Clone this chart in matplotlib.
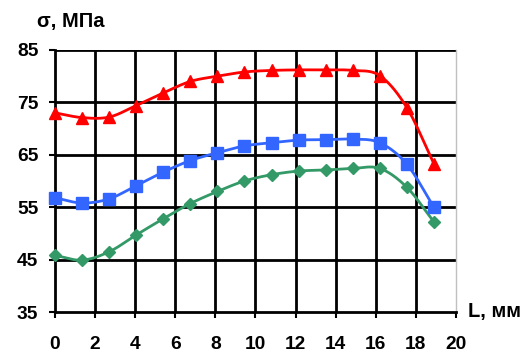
import numpy as np
import matplotlib
matplotlib.use("Agg")
import matplotlib.pyplot as plt

L = [0, 1.35, 2.7, 4.05, 5.4, 6.75, 8.1, 9.45, 10.8, 12.15, 13.5, 14.85, 16.2, 17.55, 18.9]
red = [73.0, 72.1, 72.2, 74.4, 76.8, 79.0, 80.0, 80.8, 81.1, 81.2, 81.2, 81.1, 80.1, 74.0, 63.3]
blue = [56.8, 55.8, 56.6, 59.1, 61.7, 63.9, 65.4, 66.7, 67.3, 67.8, 67.9, 68.0, 67.3, 63.2, 55.0]
green = [45.8, 44.9, 46.5, 49.7, 52.8, 55.7, 58.0, 60.0, 61.2, 61.9, 62.1, 62.4, 62.4, 58.8, 52.2]
xticks = list(range(0, 21, 2))
yticks = [35, 45, 55, 65, 75, 85]

plt.rcParams['font.family'] = ['Liberation Sans', 'DejaVu Sans']

def smooth(x, y, n=20):
    x = np.asarray(x, float); y = np.asarray(y, float)
    px = np.concatenate([[2*x[0]-x[1]], x, [2*x[-1]-x[-2]]])
    py = np.concatenate([[2*y[0]-y[1]], y, [2*y[-1]-y[-2]]])
    xs, ys = [], []
    t = np.linspace(0, 1, n, endpoint=False)
    for i in range(1, len(px)-2):
        p0, p1, p2, p3 = [np.array([px[j], py[j]]) for j in (i-1, i, i+1, i+2)]
        for tt in t:
            pt = 0.5*((2*p1) + (-p0+p2)*tt + (2*p0-5*p1+4*p2-p3)*tt**2 + (-p0+3*p1-3*p2+p3)*tt**3)
            xs.append(pt[0]); ys.append(pt[1])
    xs.append(x[-1]); ys.append(y[-1])
    return xs, ys

fig = plt.figure(figsize=(5.32, 3.54), dpi=100)
ax = fig.add_axes([0.1034, 0.1186, 0.7537, 0.7402])
ax.set_xlim(0, 20)
ax.set_ylim(35, 85)

for xv in xticks[1:-1]:
    ax.axvline(xv, color='black', lw=2, zorder=1)
for yv in yticks[1:]:
    ax.axhline(yv, color='black', lw=2, zorder=1)

series = [(red, '#FF0000', '^', 9), (blue, '#3366FF', 's', 8), (green, '#339966', 'D', 6)]
for ys_, c, m, ms in series:
    sx, sy = smooth(L, ys_)
    ax.plot(sx, sy, color=c, lw=2, zorder=3, clip_on=False)
    ax.plot(L, ys_, ls='none', marker=m, ms=ms, color=c, zorder=4, clip_on=False)

ax.set_xticks(xticks)
ax.set_yticks(yticks)
ax.tick_params(axis='both', direction='out', length=4.5, width=1.5, color='black',
               labelsize=13.8)
ax.tick_params(axis='x', pad=13)
ax.tick_params(axis='y', pad=7.5)
for lbl in ax.get_xticklabels() + ax.get_yticklabels():
    lbl.set_fontweight('bold')
ax.spines['left'].set_linewidth(2)
ax.spines['bottom'].set_linewidth(2)
ax.spines['left'].set_color('black')
ax.spines['bottom'].set_color('black')
ax.spines['right'].set_color('#C0C0C0')
ax.spines['right'].set_linewidth(1)
ax.spines['top'].set_visible(False)

fig.text(37/532, 1-21/354, 'σ, МПа', fontsize=14.5, fontweight='bold', va='center', ha='left')
fig.text(468/532, 1-311/354, 'L, мм', fontsize=14.5, fontweight='bold', va='center', ha='left')

fig.savefig('out.png', dpi=100)
